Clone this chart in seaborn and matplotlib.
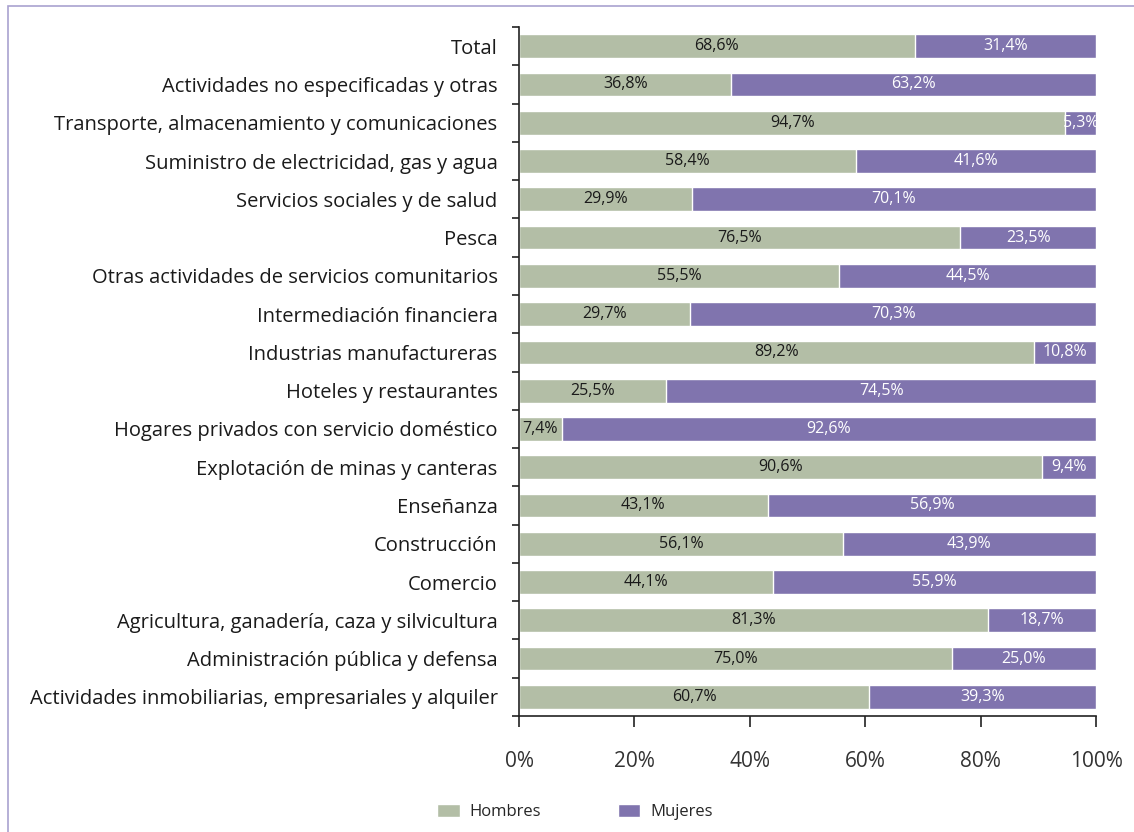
import numpy as np
import pandas as pd
import matplotlib
matplotlib.use("Agg")
import matplotlib.pyplot as plt
import seaborn as sns
from matplotlib.patches import Rectangle, Patch

# datos
categorias = [
    "Total",
    "Actividades no especificadas y otras",
    "Transporte, almacenamiento y comunicaciones",
    "Suministro de electricidad, gas y agua",
    "Servicios sociales y de salud",
    "Pesca",
    "Otras actividades de servicios comunitarios",
    "Intermediación financiera",
    "Industrias manufactureras",
    "Hoteles y restaurantes",
    "Hogares privados con servicio doméstico",
    "Explotación de minas y canteras",
    "Enseñanza",
    "Construcción",
    "Comercio",
    "Agricultura, ganadería, caza y silvicultura",
    "Administración pública y defensa",
    "Actividades inmobiliarias, empresariales y alquiler",
]
hombres = [68.6, 36.8, 94.7, 58.4, 29.9, 76.5, 55.5, 29.7, 89.2, 25.5,
           7.4, 90.6, 43.1, 56.1, 44.1, 81.3, 75.0, 60.7]
mujeres = [31.4, 63.2, 5.3, 41.6, 70.1, 23.5, 44.5, 70.3, 10.8, 74.5,
           92.6, 9.4, 56.9, 43.9, 55.9, 18.7, 25.0, 39.3]

col_h = "#B3BEA6"
col_m = "#8074AE"

sns.set_style("white")
plt.rcParams["font.family"] = ["Open Sans", "DejaVu Sans"]

df = pd.DataFrame({"categoria": categorias, "hombres": hombres, "mujeres": mujeres})
df["total"] = df["hombres"] + df["mujeres"]

fig = plt.figure(figsize=(11.34, 8.32), dpi=100)
ax = fig.add_axes([0.4577, 0.1394, 0.9665 - 0.4577, 0.9675 - 0.1394])

# barras apiladas: total (mujeres) debajo, hombres encima
sns.barplot(data=df, x="total", y="categoria", color=col_m, width=0.62,
            saturation=1, ax=ax, orient="h")
sns.barplot(data=df, x="hombres", y="categoria", color=col_h, width=0.62,
            saturation=1, ax=ax, orient="h")

def fmt(v):
    return f"{v:.1f}%".replace(".", ",")

for i, (h, m) in enumerate(zip(hombres, mujeres)):
    ax.text(h / 2, i, fmt(h), ha="center", va="center", fontsize=11.5, color="#1a1a1a")
    ax.text(h + m / 2, i, fmt(m), ha="center", va="center", fontsize=11.5, color="white")

ax.set_xlim(0, 100)
ax.set_ylim(len(categorias) - 0.5, -0.5)
ax.set_xticks([0, 20, 40, 60, 80, 100])
ax.set_xticklabels(["0%", "20%", "40%", "60%", "80%", "100%"])
ax.set_yticks(np.arange(len(categorias)))
ax.set_yticklabels(categorias)
ax.set_yticks(np.arange(len(categorias) + 1) - 0.5, minor=True)
ax.set_xlabel("")
ax.set_ylabel("")

ax.tick_params(axis="y", which="major", length=0, pad=15.5, labelsize=14.5, labelcolor="#1a1a1a")
ax.tick_params(axis="y", which="minor", length=5, width=1.2, color="#222222", direction="out", left=True)
ax.tick_params(axis="x", which="major", length=8, width=1.2, color="#222222", direction="out",
               bottom=True, pad=17, labelsize=15, labelcolor="#333333")

for s in ["top", "right"]:
    ax.spines[s].set_visible(False)
for s in ["left", "bottom"]:
    ax.spines[s].set_color("#222222")
    ax.spines[s].set_linewidth(1.2)

handles = [Patch(facecolor=col_h, label="Hombres"), Patch(facecolor=col_m, label="Mujeres")]
fig.legend(handles=handles, loc="center", bbox_to_anchor=(0.507, 1 - 812 / 832), ncol=2,
           frameon=False, fontsize=12, handlelength=1.35, handleheight=0.85,
           columnspacing=4.6, handletextpad=0.6)

# marco
fig.patches.append(Rectangle((8 / 1134, -0.05), 1.2, 1 - 6 / 832 + 0.05,
                             transform=fig.transFigure, fill=False,
                             edgecolor="#A9A2CF", linewidth=1.2))

fig.savefig("out.png", dpi=100)
